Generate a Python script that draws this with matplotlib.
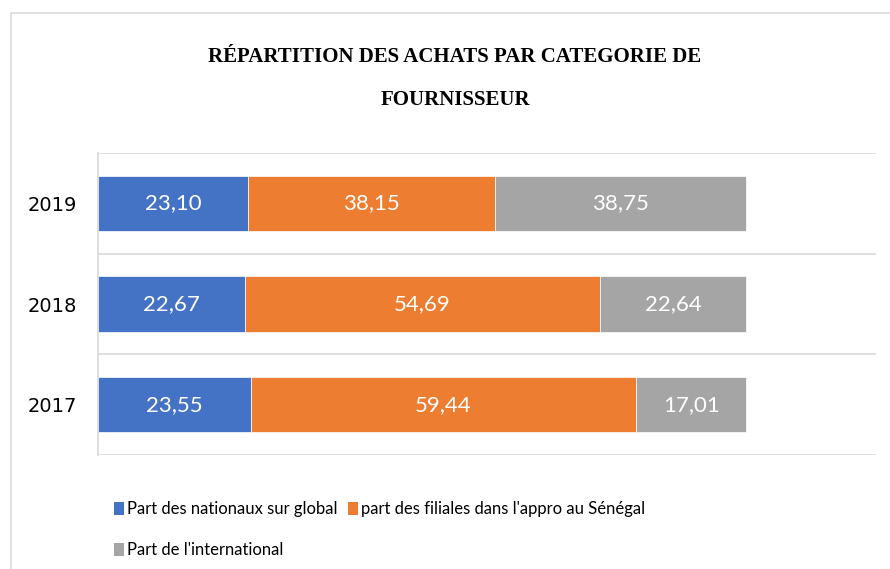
import numpy as np
import matplotlib.pyplot as plt
from matplotlib.patches import Rectangle, Patch

# data
years = ['2017', '2018', '2019']
nationaux = [23.55, 22.67, 23.10]
filiales = [59.44, 54.69, 38.15]
international = [17.01, 22.64, 38.75]
series_names = ['Part des nationaux sur global',
                "part des filiales dans l'appro au Sénégal",
                "Part de l'international"]
colors = ['#4472C4', '#ED7D31', '#A5A5A5']

fig = plt.figure(figsize=(8.9, 5.69), dpi=100)
fig.patches.append(Rectangle((11/890, -0.1), 1.2, 1 - 13/569 + 0.1, transform=fig.transFigure,
                             fill=False, edgecolor='#d9d9d9', linewidth=1.2))

ax = fig.add_axes([98/890, 1 - 455/569, 778/890, 302/569])
y = np.arange(len(years))
left = np.zeros(len(years))
for vals, name, col in zip([nationaux, filiales, international], series_names, colors):
    bars = ax.barh(y, vals, left=left, height=0.55, color=col, edgecolor='white',
                   linewidth=0.5, label=name)
    labels = [f'{v:.2f}'.replace('.', ',') for v in vals]
    ax.bar_label(bars, labels=labels, label_type='center', color='white',
                 fontsize=16, family='Lato')
    left += np.array(vals)

ax.set_xlim(0, 120)
ax.set_ylim(-0.5, 2.5)
for b in [-0.5, 0.5, 1.5, 2.5]:
    ax.axhline(b, color='#d9d9d9', linewidth=1.2, zorder=0)
for s in ['top', 'right', 'bottom']:
    ax.spines[s].set_visible(False)
ax.spines['left'].set_color('#d9d9d9')
ax.spines['left'].set_linewidth(1.2)
ax.set_xticks([])
ax.set_yticks(y)
ax.set_yticklabels(years, fontsize=14, family='DejaVu Sans')
ax.tick_params(axis='y', length=0, pad=15)

fig.text(455/890, 1 - 57/569, 'RÉPARTITION DES ACHATS PAR CATEGORIE DE',
         ha='center', va='center', fontsize=15, fontweight='bold', family='Liberation Serif')
fig.text(455/890, 1 - 100/569, 'FOURNISSEUR',
         ha='center', va='center', fontsize=15, fontweight='bold', family='Liberation Serif')

# row-major order for the 2-column legend
order = [0, 2, 1]
handles = [Patch(facecolor=colors[i]) for i in order]
fig.legend(handles, [series_names[i] for i in order], loc='upper left',
           bbox_to_anchor=(99/890, 1 - 486/569),
           ncol=2, frameon=False, handlelength=0.6, handleheight=0.8, handletextpad=0.2,
           columnspacing=0.6, labelspacing=1.5, prop={'family': 'Lato', 'size': 12})

plt.savefig('out.png')
